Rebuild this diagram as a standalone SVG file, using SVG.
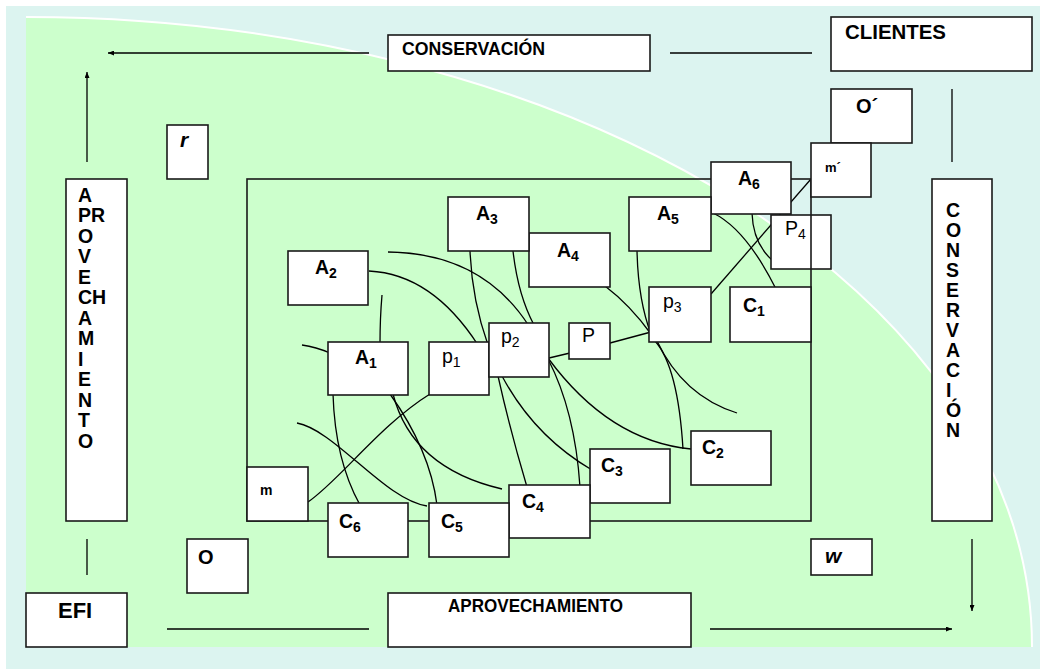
<svg xmlns="http://www.w3.org/2000/svg" width="1040" height="669" viewBox="0 0 1040 669">
  <style>
    .box{fill:#fff;stroke:#1a1a1a;stroke-width:1.6}
    .ln{fill:none;stroke:#000;stroke-width:1.3}
    .t{font-family:"Liberation Sans",Arial,sans-serif;font-weight:bold;fill:#000}
    .lbl{font-size:19.5px}
    .sub{font-size:14px}
    .nw{font-weight:normal}
    .vt{font-size:19.5px}
  </style>
  <defs>
    <marker id="arrow" markerUnits="userSpaceOnUse" markerWidth="6" markerHeight="5" refX="6" refY="2.5" orient="auto">
      <path d="M0,0 L6,2.5 L0,5 z" fill="#000"/>
    </marker>
  </defs>

  <!-- backdrop -->
  <rect x="0" y="0" width="1040" height="669" fill="#fff"/>
  <rect x="6" y="6" width="1034" height="663" fill="#DCF4F0"/>
  <path d="M26,647 L26,17 A1006,630 0 0 1 1032,647 Z" fill="#CCFFCC"/>
  <path d="M26,17 A1006,630 0 0 1 1032,647" fill="none" stroke="#fff" stroke-width="2"/>

  <!-- connectors -->
  <g id="connectors" class="ln">
    <path d="M369,53 L108,53" marker-end="url(#arrow)"/>
    <path d="M87,162 L87,72" marker-end="url(#arrow)"/>
    <path d="M670,53 L812,53"/>
    <path d="M952,89 L952,162"/>
    <path d="M87,539 L87,575"/>
    <path d="M167,629 L369,629"/>
    <path d="M710,629 L952,629" marker-end="url(#arrow)"/>
    <path d="M972,539 L972,611" marker-end="url(#arrow)"/>

    <path d="M388,252 Q482,253 529,326"/>
    <path d="M369,271 Q432,274 478,345"/>
    <path d="M382,295 Q380,318 380,344"/>
    <path d="M302,345 Q316,347 330,353"/>
    <path d="M470,251 Q472,300 488,345"/>
    <path d="M513,251 Q518,295 534,325"/>
    <path d="M333,394 Q335,460 360,505"/>
    <path d="M390,394 Q430,450 437,505"/>
    <path d="M393,394 Q412,468 502,489"/>
    <path d="M297,423 C335,430 385,500 427,506"/>
    <path d="M308,502 C340,480 380,425 430,394"/>
    <path d="M498,376 Q510,430 527,487"/>
    <path d="M502,376 Q534,436 592,470"/>
    <path d="M548,359 Q575,411 580,487"/>
    <path d="M548,358 Q609,441 691,449"/>
    <path d="M655,341 Q678,367 683,449"/>
    <path d="M657,341 Q683,396 737,413"/>
    <path d="M605,286 Q630,305 651,334"/>
    <path d="M637,250 Q638,300 651,334"/>
    <path d="M610,343 L651,332"/>
    <path d="M549,358 L570,353"/>
    <path d="M752,213 Q753,243 772,260"/>
    <path d="M713,213 Q746,229 776,289"/>
    <path d="M811,179 L711,294"/>
  </g>

  <g id="P4">
    <rect class="box" x="771" y="215" width="60" height="54"/>
    <text class="t nw lbl" x="785" y="235">P<tspan class="sub" dy="4">4</tspan></text>
  </g>

  <!-- process frame -->
  <g id="frame">
    <rect x="247" y="179" width="564" height="342" fill="none" stroke="#1a1a1a" stroke-width="1.6"/>
  </g>

  <g id="conservacion-top">
    <rect class="box" x="388" y="35" width="262" height="36"/>
    <text class="t" font-size="17.5" x="402" y="55" textLength="143" lengthAdjust="spacingAndGlyphs">CONSERVACIÓN</text>
  </g>
  <g id="clientes">
    <rect class="box" x="831" y="17" width="201" height="54"/>
    <text class="t" font-size="20" x="845" y="39" textLength="101" lengthAdjust="spacingAndGlyphs">CLIENTES</text>
  </g>
  <g id="o-prime">
    <rect class="box" x="831" y="89" width="81" height="54"/>
    <text class="t" font-size="20" x="856" y="113">O´</text>
  </g>
  <g id="m-prime">
    <rect class="box" x="811" y="143" width="60" height="54"/>
    <text class="t" font-size="13" x="825" y="172">m´</text>
  </g>
  <g id="r">
    <rect class="box" x="167" y="125" width="41" height="54"/>
    <text class="t" font-size="21" font-style="italic" x="180" y="147">r</text>
  </g>
  <g id="aprovechamiento-side">
    <rect class="box" x="66" y="179" width="61" height="342"/>
    <text class="t vt" x="78" y="201.5">
      <tspan x="78">A</tspan><tspan x="78" dy="20.5">PR</tspan><tspan x="78" dy="20.5">O</tspan><tspan x="78" dy="20.5">V</tspan><tspan x="78" dy="20.5">E</tspan><tspan x="78" dy="20.5">CH</tspan><tspan x="78" dy="20.5">A</tspan><tspan x="78" dy="20.5">M</tspan><tspan x="78" dy="20.5">I</tspan><tspan x="78" dy="20.5">E</tspan><tspan x="78" dy="20.5">N</tspan><tspan x="78" dy="20.5">T</tspan><tspan x="78" dy="20.5">O</tspan>
    </text>
  </g>
  <g id="conservacion-side">
    <rect class="box" x="932" y="179" width="60" height="342"/>
    <text class="t vt" x="946" y="217">
      <tspan x="946">C</tspan><tspan x="946" dy="20">O</tspan><tspan x="946" dy="20">N</tspan><tspan x="946" dy="20">S</tspan><tspan x="946" dy="20">E</tspan><tspan x="946" dy="20">R</tspan><tspan x="946" dy="20">V</tspan><tspan x="946" dy="20">A</tspan><tspan x="946" dy="20">C</tspan><tspan x="946" dy="20">I</tspan><tspan x="946" dy="20">Ó</tspan><tspan x="946" dy="20">N</tspan>
    </text>
  </g>
  <g id="o">
    <rect class="box" x="187" y="539" width="61" height="54"/>
    <text class="t" font-size="20" x="198" y="564">O</text>
  </g>
  <g id="efi">
    <rect class="box" x="26" y="593" width="101" height="54"/>
    <text class="t" font-size="22" x="58" y="618">EFI</text>
  </g>
  <g id="aprovechamiento-bottom">
    <rect class="box" x="388" y="593" width="303" height="54"/>
    <text class="t" font-size="17.5" x="448" y="612" textLength="175" lengthAdjust="spacingAndGlyphs">APROVECHAMIENTO</text>
  </g>
  <g id="w">
    <rect class="box" x="811" y="539" width="61" height="36"/>
    <text class="t" font-size="21" font-style="italic" x="825" y="563">w</text>
  </g>

  <g id="A6">
    <rect class="box" x="711" y="162" width="80" height="52"/>
    <text class="t lbl" x="738" y="185">A<tspan class="sub" dy="4">6</tspan></text>
  </g>
  <g id="A5">
    <rect class="box" x="629" y="197" width="82" height="54"/>
    <text class="t lbl" x="657" y="220">A<tspan class="sub" dy="4">5</tspan></text>
  </g>
  <g id="A4">
    <rect class="box" x="529" y="233" width="81" height="54"/>
    <text class="t lbl" x="557" y="257">A<tspan class="sub" dy="4">4</tspan></text>
  </g>
  <g id="A3">
    <rect class="box" x="448" y="197" width="81" height="54"/>
    <text class="t lbl" x="476" y="220">A<tspan class="sub" dy="4">3</tspan></text>
  </g>
  <g id="A2">
    <rect class="box" x="288" y="251" width="80" height="54"/>
    <text class="t lbl" x="315" y="274">A<tspan class="sub" dy="4">2</tspan></text>
  </g>
  <g id="A1">
    <rect class="box" x="328" y="342" width="80" height="53"/>
    <text class="t lbl" x="355" y="364">A<tspan class="sub" dy="4">1</tspan></text>
  </g>
  <g id="p1">
    <rect class="box" x="429" y="342" width="60" height="53"/>
    <text class="t nw lbl" x="442" y="363">p<tspan class="sub" dy="4">1</tspan></text>
  </g>
  <g id="p2">
    <rect class="box" x="489" y="323" width="60" height="54"/>
    <text class="t nw lbl" x="501" y="343">p<tspan class="sub" dy="4">2</tspan></text>
  </g>
  <g id="P">
    <rect class="box" x="569" y="323" width="41" height="36"/>
    <text class="t nw lbl" x="582" y="342">P</text>
  </g>
  <g id="p3">
    <rect class="box" x="649" y="287" width="62" height="55"/>
    <text class="t nw lbl" x="663" y="308">p<tspan class="sub" dy="4">3</tspan></text>
  </g>
  <g id="C1">
    <rect class="box" x="730" y="287" width="81" height="55"/>
    <text class="t lbl" x="743" y="312">C<tspan class="sub" dy="4">1</tspan></text>
  </g>
  <g id="C2">
    <rect class="box" x="691" y="431" width="80" height="54"/>
    <text class="t lbl" x="702" y="454">C<tspan class="sub" dy="4">2</tspan></text>
  </g>
  <g id="C3">
    <rect class="box" x="590" y="449" width="80" height="54"/>
    <text class="t lbl" x="601" y="472">C<tspan class="sub" dy="4">3</tspan></text>
  </g>
  <g id="C4">
    <rect class="box" x="509" y="485" width="81" height="53"/>
    <text class="t lbl" x="522" y="508">C<tspan class="sub" dy="4">4</tspan></text>
  </g>
  <g id="C5">
    <rect class="box" x="429" y="503" width="80" height="54"/>
    <text class="t lbl" x="441" y="528">C<tspan class="sub" dy="4">5</tspan></text>
  </g>
  <g id="C6">
    <rect class="box" x="328" y="503" width="80" height="54"/>
    <text class="t lbl" x="339" y="528">C<tspan class="sub" dy="4">6</tspan></text>
  </g>
  <g id="m">
    <rect class="box" x="247" y="467" width="61" height="54"/>
    <text class="t" font-size="14" x="260" y="495">m</text>
  </g>
</svg>
